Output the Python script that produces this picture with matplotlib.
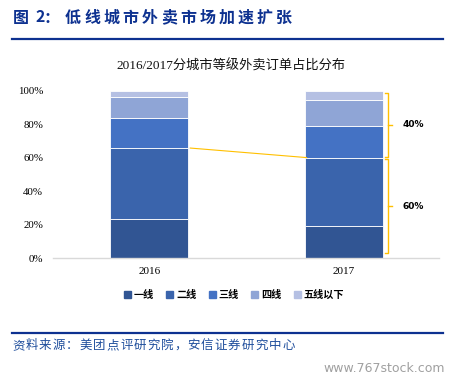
import numpy as np
import matplotlib
matplotlib.use('Agg')
import matplotlib.pyplot as plt
from matplotlib.patches import Patch

# data (share of orders, %)
years = ['2016', '2017']
tiers = ['一线', '二线', '三线', '四线', '五线以下']
share_2016 = [23.5, 42.4, 17.9, 12.6, 3.6]
share_2017 = [19.5, 40.7, 18.6, 15.6, 5.6]
colors = ['#315593', '#3a64ac', '#4472c4', '#8fa5d6', '#b5c0e3']

bracket_labels = ['40%', '60%']
bracket_spans = [(60, 100), (0, 60)]

CJK = ['Noto Sans CJK SC', 'DejaVu Sans']
SERIF = ['Liberation Serif', 'Noto Sans CJK SC']
NAVY = '#0d3190'

fig = plt.figure(figsize=(4.57, 3.82), dpi=100)
W, H = 457, 382

def fx(px):
    return px / W

def fy(py):
    return 1 - py / H

def spaced_text(x0, y, s, step, **kw):
    # lay out characters one by one with a fixed advance (wide letter spacing)
    for i, ch in enumerate(s):
        fig.text(fx(x0 + i * step), fy(y), ch, va='baseline', ha='left', **kw)

# header + rule lines
hdr = dict(family=CJK, fontsize=11.5, fontweight='bold', color=NAVY)
fig.text(fx(13), fy(22.5), '图', va='baseline', ha='left', **hdr)
fig.text(fx(35), fy(22.5), '2', va='baseline', ha='left', **hdr)
fig.text(fx(44), fy(22.5), '：', va='baseline', ha='left', **hdr)
spaced_text(65, 22.5, '低线城市外卖市场加速扩张', 19.2, **hdr)
fig.add_artist(plt.Line2D([fx(12), fx(443)], [fy(39), fy(39)], color=NAVY, lw=1.6))
fig.add_artist(plt.Line2D([fx(12), fx(443)], [fy(333), fy(333)], color=NAVY, lw=1.6))
spaced_text(12, 349, '资料来源：美团点评研究院，安信证券研究中心', 13.5,
            family=CJK, fontsize=9, color='#1f4e9c')
fig.text(fx(445), fy(369), 'www.767stock.com', family=['DejaVu Sans'], fontsize=9,
         color='#a0a0a0', va='center', ha='right')

# chart title
fig.text(fx(231), fy(66), '2016/2017分城市等级外卖订单占比分布', family=SERIF, fontsize=9.5,
         color='#111111', va='center', ha='center')

ax = fig.add_axes([fx(53), fy(258.3), fx(439 - 53), (258.3 - 91) / H])
x = np.arange(len(years))
width = 0.402
data = np.array([share_2016, share_2017])
bottom = np.zeros(len(years))
for i, tier in enumerate(tiers):
    ax.bar(x, data[:, i], width, bottom=bottom, color=colors[i], edgecolor='white',
           linewidth=0.6, label=tier, zorder=2)
    bottom += data[:, i]

# connector between 二线 tops
top2 = data[:, 0] + data[:, 1]
ax.plot([x[0] + width / 2 + 0.01, x[1] - width / 2 + 0.01], top2, color='#ffc000', lw=0.8, zorder=3)

# brackets to the right of 2017 bar
bx = x[1] + width / 2 + 0.025
for (lo, hi), lab in zip(bracket_spans, bracket_labels):
    lo_ = lo + 3 if lo == 0 else lo + 0.7
    hi_ = hi - 1 if hi == 100 else hi - 0.7
    ax.plot([bx - 0.015, bx, bx, bx - 0.015], [hi_, hi_, lo_, lo_], color='#ffc000', lw=1.0,
            clip_on=False, zorder=3)
    mid = (lo_ + hi_) / 2
    ax.plot([bx, bx + 0.02], [mid, mid], color='#ffc000', lw=1.0, clip_on=False)
    ax.text(bx + 0.075, mid, lab, fontsize=6.5, fontweight='bold', family=['DejaVu Sans'],
            va='center', ha='left', color='black')

ax.set_xlim(-0.495, 1.49)
ax.set_ylim(0, 100)
ax.set_xticks(x)
ax.set_xticklabels(years, family=SERIF, fontsize=8)
ax.set_yticks(np.arange(0, 101, 20))
ax.set_yticklabels([f'{v}%' for v in range(0, 101, 20)], family=SERIF, fontsize=7.8)
ax.tick_params(length=0, pad=7)
ax.tick_params(axis='x', pad=6)
for s in ['top', 'right', 'left']:
    ax.spines[s].set_visible(False)
ax.spines['bottom'].set_color('#d9d9d9')
ax.spines['bottom'].set_linewidth(1.0)

handles = [Patch(color=c) for c in colors]
fig.legend(handles, tiers, loc='center', bbox_to_anchor=(fx(234), fy(295)), ncol=5,
           frameon=False, prop={'family': CJK, 'size': 7.3, 'weight': 'bold'},
           handlelength=0.7, handleheight=0.7, handletextpad=0.3, columnspacing=1.2)

fig.savefig('out.png', dpi=100)
